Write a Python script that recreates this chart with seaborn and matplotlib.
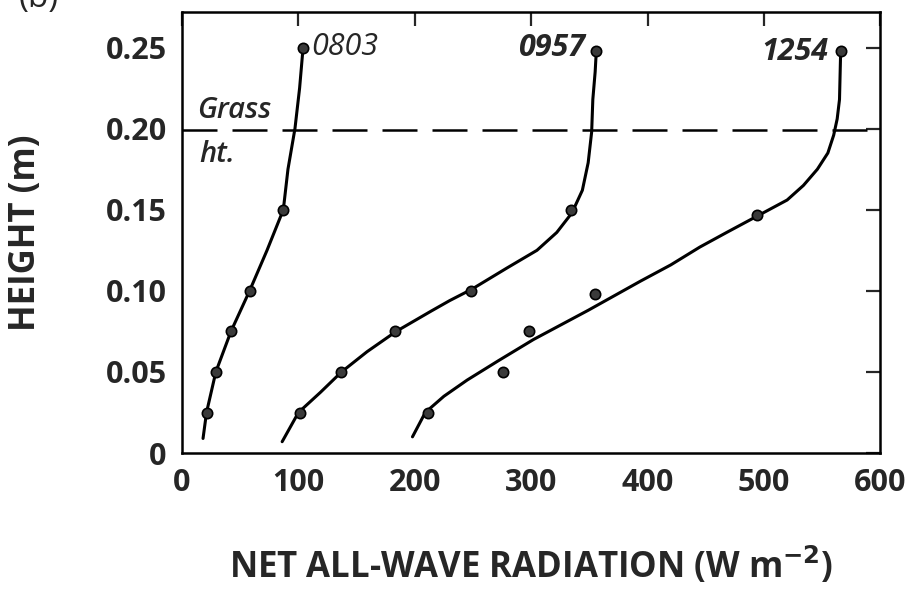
import matplotlib
matplotlib.use("Agg")
import matplotlib.pyplot as plt
import seaborn as sns
import pandas as pd

# measured points (W m-2, m)
x_0803 = [104, 87, 58, 42, 29, 21]
y_0803 = [0.25, 0.15, 0.10, 0.075, 0.05, 0.025]
x_0957 = [356, 334, 248, 183, 137, 101]
y_0957 = [0.248, 0.15, 0.10, 0.075, 0.05, 0.025]
x_1254 = [566, 494, 355, 298, 276, 211]
y_1254 = [0.248, 0.147, 0.098, 0.075, 0.05, 0.025]

# fitted curves
cx_0803 = [18, 21, 29, 42, 58, 73, 87, 91, 97, 101, 104]
cy_0803 = [0.009, 0.025, 0.05, 0.075, 0.10, 0.125, 0.15, 0.175, 0.20, 0.225, 0.25]
cx_0957 = [86, 100, 119, 137, 159, 184, 214, 230, 249, 279, 305, 322, 335, 344, 349,
           352, 353, 355, 356]
cy_0957 = [0.007, 0.025, 0.0375, 0.05, 0.0625, 0.075, 0.0875, 0.094, 0.101, 0.114,
           0.125, 0.136, 0.148, 0.162, 0.179, 0.198, 0.218, 0.235, 0.248]
cx_1254 = [198, 209, 225, 245, 272, 302, 349, 394, 420, 445, 468, 494, 520, 534, 546,
           555, 560, 563, 565, 566]
cy_1254 = [0.01, 0.025, 0.035, 0.045, 0.057, 0.07, 0.088, 0.106, 0.116, 0.127, 0.136,
           0.146, 0.156, 0.165, 0.175, 0.185, 0.196, 0.206, 0.218, 0.248]

grass_ht = 0.199
xticks = [0, 100, 200, 300, 400, 500, 600]
yticks = [0, 0.05, 0.10, 0.15, 0.20, 0.25]
ylabels = ["0", "0.05", "0.10", "0.15", "0.20", "0.25"]

sns.set_style("white")
plt.rcParams["font.family"] = ["Open Sans", "DejaVu Sans"]

fig = plt.figure(figsize=(9.15, 5.93), dpi=100)
ax = fig.add_axes([0.199, 0.236, 0.763, 0.744])

for cx, cy in [(cx_0803, cy_0803), (cx_0957, cy_0957), (cx_1254, cy_1254)]:
    df = pd.DataFrame({"x": cx, "y": cy})
    sns.lineplot(data=df, x="x", y="y", sort=False, estimator=None, color="black",
                 lw=2.2, ax=ax, solid_joinstyle="round", solid_capstyle="round")

pts = pd.DataFrame({"x": x_0803 + x_0957 + x_1254, "y": y_0803 + y_0957 + y_1254})
sns.scatterplot(data=pts, x="x", y="y", s=55, color="#3a3a3a", edgecolor="black",
                linewidth=1.2, ax=ax, zorder=5)

ax.axhline(grass_ht, color="black", lw=1.8, ls=(0, (14, 6)))

ax.text(111, 0.2505, "0803", style="italic", fontsize=22, va="center", ha="left")
ax.text(346, 0.2495, "0957", style="italic", fontweight="bold", fontsize=22, va="center", ha="right")
ax.text(555, 0.2475, "1254", style="italic", fontweight="bold", fontsize=22, va="center", ha="right")
ax.text(13, 0.2025, "Grass", style="italic", fontweight="semibold", fontsize=21, va="bottom", ha="left")
ax.text(15, 0.193, "ht.", style="italic", fontweight="semibold", fontsize=21, va="top", ha="left")

ax.set_xlim(0, 600)
ax.set_ylim(0, 0.272)
ax.set_xticks(xticks)
ax.set_yticks(yticks)
ax.set_yticklabels(ylabels)
ax.tick_params(direction="in", length=10, width=1.6, top=True, right=True,
               labelsize=22, pad=11)
for lab in ax.get_xticklabels() + ax.get_yticklabels():
    lab.set_fontweight("bold")
for s in ax.spines.values():
    s.set_linewidth(1.8)
    s.set_color("black")

ax.set_xlabel("NET ALL-WAVE RADIATION (W m$^{\\mathbf{-2}}$)", fontsize=25,
              fontweight="bold", labelpad=34)
ax.set_ylabel("HEIGHT (m)", fontsize=25, fontweight="bold", labelpad=44)

fig.text(0.02, 1 - 15 / 593, "(b)", fontsize=24, va="bottom", ha="left")

fig.savefig("out.png", dpi=100)
